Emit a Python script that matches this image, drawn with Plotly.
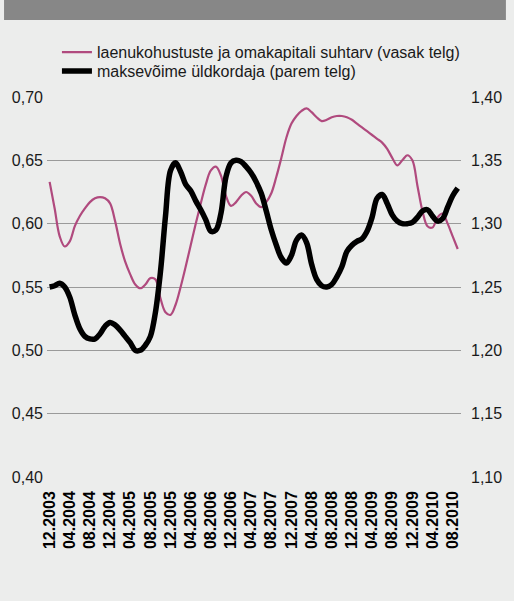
import plotly.graph_objects as go

# Monthly observations, 12.2003 .. 09.2010
months = [f"{(11 + i) % 12 + 1:02d}.{2003 + (11 + i) // 12}" for i in range(82)]

debt_equity = [
    0.633, 0.612, 0.590, 0.582, 0.586, 0.598, 0.606, 0.612, 0.617, 0.620,
    0.621, 0.620, 0.616, 0.602, 0.584, 0.570, 0.560, 0.552, 0.549, 0.552,
    0.557, 0.556, 0.541, 0.530, 0.528, 0.536, 0.550, 0.566, 0.583, 0.600,
    0.616, 0.631, 0.642, 0.645, 0.638, 0.622, 0.614, 0.617, 0.622, 0.625,
    0.622, 0.616, 0.613, 0.617, 0.624, 0.637, 0.652, 0.668, 0.679, 0.685,
    0.689, 0.691, 0.688, 0.684, 0.681, 0.682, 0.684, 0.685, 0.685, 0.684,
    0.682, 0.679, 0.676, 0.673, 0.670, 0.667, 0.664, 0.659, 0.652, 0.646,
    0.650, 0.654, 0.650, 0.630, 0.610, 0.598, 0.597, 0.605, 0.608, 0.600,
    0.590, 0.580,
]

solvency = [
    1.250, 1.251, 1.253, 1.250, 1.242, 1.228, 1.217, 1.211, 1.209, 1.209,
    1.213, 1.219, 1.222, 1.220, 1.216, 1.211, 1.206, 1.200, 1.200, 1.204,
    1.211, 1.230, 1.262, 1.306, 1.342, 1.348, 1.341, 1.331, 1.326, 1.318,
    1.311, 1.303, 1.294, 1.295, 1.308, 1.337, 1.348, 1.350, 1.349, 1.345,
    1.340, 1.333, 1.324, 1.310, 1.295, 1.283, 1.273, 1.269, 1.275, 1.287,
    1.291, 1.285, 1.268, 1.256, 1.251, 1.250, 1.252, 1.258, 1.266, 1.278,
    1.283, 1.286, 1.288, 1.294, 1.305, 1.320, 1.323, 1.316, 1.307, 1.302,
    1.300, 1.300, 1.301, 1.305, 1.310, 1.311, 1.306, 1.302, 1.304, 1.313,
    1.322, 1.328,
]

tick_labels = months[::4]
tick_positions = list(range(0, 82, 4))
x_idx = list(range(len(months)))

FONT = "Liberation Sans, Arial, Helvetica, sans-serif"
BG = "#ecedec"

fig = go.Figure()
fig.add_trace(go.Scatter(
    x=x_idx, y=debt_equity, mode="lines", line_shape="spline",
    line=dict(color="#b04a7e", width=2.2),
    name="laenukohustuste ja omakapitali suhtarv (vasak telg)",
    legend="legend",
))
fig.add_trace(go.Scatter(
    x=x_idx, y=solvency, mode="lines", line_shape="spline",
    line=dict(color="#000000", width=5.5),
    name="maksevõime üldkordaja (parem telg)", yaxis="y2",
    legend="legend2",
))

legend_style = dict(
    xanchor="left", yanchor="middle", bgcolor="rgba(0,0,0,0)",
    itemwidth=30, font=dict(size=16, family=FONT, color="#1a1a1a"),
)

fig.update_layout(
    width=514, height=601,
    margin=dict(l=44, r=46, t=97, b=124),
    paper_bgcolor=BG, plot_bgcolor=BG,
    separators=",.",
    font=dict(family=FONT, size=16, color="#1a1a1a"),
    showlegend=True,
    legend=dict(x=0.024, y=1.118, **legend_style),
    legend2=dict(x=0.024, y=1.068, **legend_style),
    xaxis=dict(
        range=[-0.52, 81.65], tickmode="array",
        tickvals=tick_positions, ticktext=tick_labels,
        tickangle=-90, showgrid=False, zeroline=False, showline=False,
        ticks="", ticklabelstandoff=10,
        tickfont=dict(size=16, family=FONT, weight="bold", color="#000"),
    ),
    yaxis=dict(
        range=[0.40, 0.70], dtick=0.05, tickformat=".2f",
        showgrid=True, gridcolor="#9a9a9a", gridwidth=1,
        zeroline=False, showline=False, ticks="", ticklabelstandoff=3,
    ),
    yaxis2=dict(
        range=[1.10, 1.40], dtick=0.05, tickformat=".2f",
        overlaying="y", side="right", showgrid=False,
        zeroline=False, showline=False, ticks="", ticklabelstandoff=9,
    ),
    shapes=[dict(
        type="rect", xref="paper", yref="paper",
        x0=-44 / 424, x1=1 + 46 / 424,
        y0=1 + 77 / 380, y1=1 + 97 / 380,
        fillcolor="#878787", line=dict(width=0), layer="above",
    )],
)

fig.write_html("out.html")
